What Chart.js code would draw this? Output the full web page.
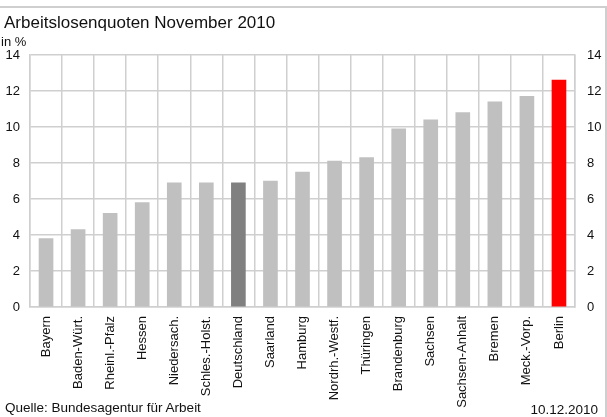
<!DOCTYPE html>
<html>
<head>
<meta charset="utf-8">
<script src="https://cdn.jsdelivr.net/npm/chart.js@4/dist/chart.umd.min.js"></script>
<style>
  html, body { margin: 0; padding: 0; background: #fff; }
  #wrap { position: relative; width: 607px; height: 417px; overflow: hidden; font-family: "Liberation Sans", Arial, sans-serif; color: #111; }
  #chart { position: absolute; left: 0; top: 0; }
  .txt { position: absolute; line-height: 1; white-space: nowrap; }
  #topline { position: absolute; left: 0; top: 6px; width: 607px; height: 2px; background: #cfcfcf; }
  #rightline { position: absolute; left: 605px; top: 6px; width: 2px; height: 411px; background: #cfcfcf; }
</style>
</head>
<body>
<div id="wrap">
  <canvas id="chart" width="607" height="417"></canvas>
  <div id="topline"></div>
  <div id="rightline"></div>
  <div class="txt" id="title" style="left:4px; top:14px; font-size:17px;">Arbeitslosenquoten November 2010</div>
  <div class="txt" id="unit" style="left:1px; top:35px; font-size:13px;">in %</div>
  <div class="txt" id="source" style="left:5px; top:401px; font-size:13.5px;">Quelle: Bundesagentur für Arbeit</div>
  <div class="txt" id="date" style="right:9px; top:403px; font-size:13.5px;">10.12.2010</div>
</div>
<script>
const categories = ["Bayern", "Baden-Würt.", "Rheinl.-Pfalz", "Hessen", "Niedersach.", "Schles.-Holst.", "Deutschland", "Saarland", "Hamburg", "Nordrh.-Westf.", "Thüringen", "Brandenburg", "Sachsen", "Sachsen-Anhalt", "Bremen", "Meck.-Vorp.", "Berlin"];
const quoten = [3.8, 4.3, 5.2, 5.8, 6.9, 6.9, 6.9, 7.0, 7.5, 8.1, 8.3, 9.9, 10.4, 10.8, 11.4, 11.7, 12.6];
const yTicks = [0, 2, 4, 6, 8, 10, 12, 14];

const national = "Deutschland";
const highest = "Berlin";
const barColors = categories.map(c => c === national ? "#808080" : (c === highest ? "#ff0000" : "#c0c0c0"));

const gridColor = "#cfcfcf";
const tickFont = { family: "'Liberation Sans', Arial, sans-serif", size: 13 };

new Chart(document.getElementById("chart"), {
  type: "bar",
  data: {
    labels: categories,
    datasets: [{
      data: quoten,
      backgroundColor: barColors,
      borderWidth: 0,
      barThickness: 14
    }]
  },
  options: {
    responsive: false,
    animation: false,
    events: [],
    layout: { padding: { top: 55, left: 0, right: 0, bottom: 0 } },
    plugins: { legend: { display: false }, tooltip: { enabled: false }, title: { display: false } },
    scales: {
      x: {
        grid: { color: gridColor, lineWidth: 1.5, drawTicks: false, offset: true },
        border: { color: gridColor, width: 1.5 },
        ticks: { font: tickFont, color: "#111", minRotation: 90, maxRotation: 90, autoSkip: false, padding: 9 },
        afterFit: s => { s.height = 110; }
      },
      y: {
        position: "left",
        min: 0, max: 14,
        afterBuildTicks: s => { s.ticks = yTicks.map(v => ({ value: v })); },
        grid: { color: gridColor, lineWidth: 1.5, drawTicks: false },
        border: { color: gridColor, width: 1.5 },
        ticks: { font: tickFont, color: "#111", padding: 10 },
        afterFit: s => { s.width = 30; }
      },
      y2: {
        position: "right",
        min: 0, max: 14,
        afterBuildTicks: s => { s.ticks = yTicks.map(v => ({ value: v })); },
        grid: { drawOnChartArea: false, drawTicks: false },
        border: { color: gridColor, width: 1.5 },
        ticks: { font: tickFont, color: "#111", padding: 12 },
        afterFit: s => { s.width = 32; }
      }
    }
  }
});
</script>
</body>
</html>
